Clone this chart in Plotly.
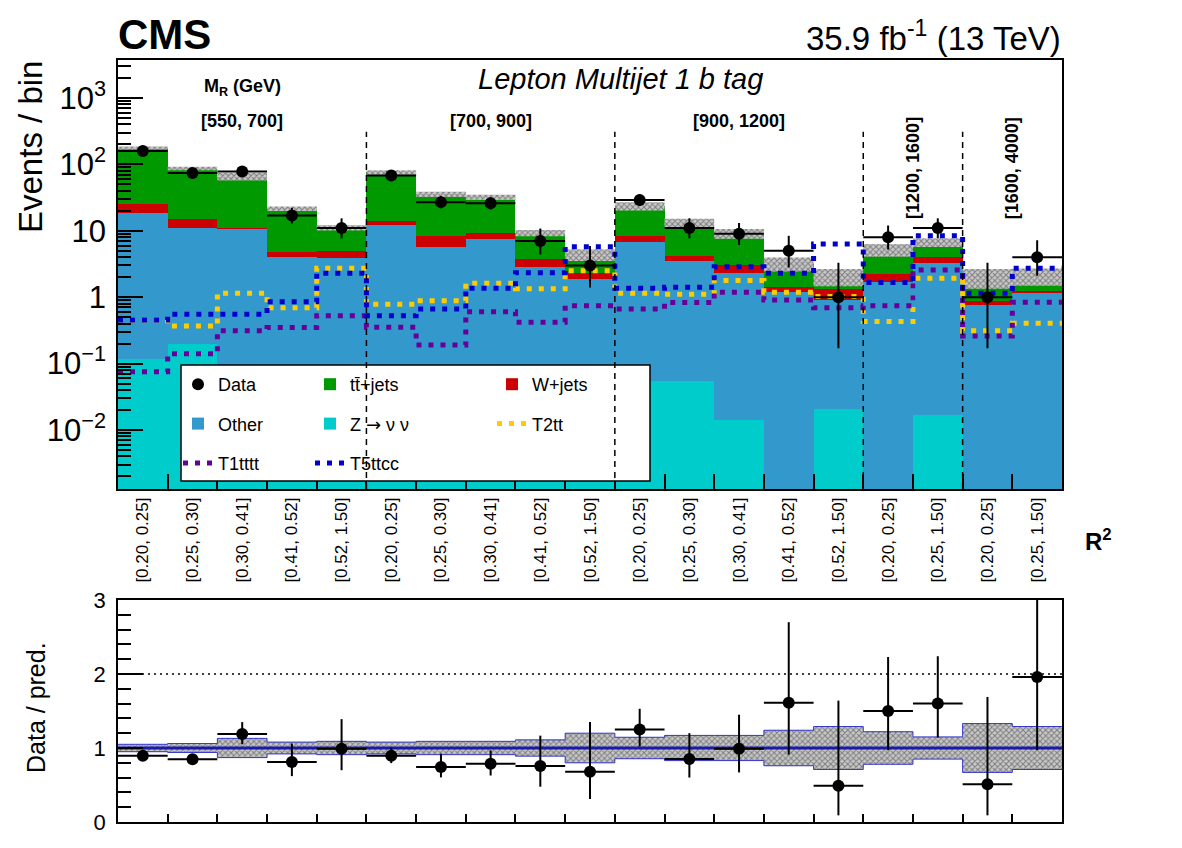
import numpy as np
import plotly.graph_objects as go

# ---------------- data ----------------
r2_labels = ["[0.20, 0.25]", "[0.25, 0.30]", "[0.30, 0.41]", "[0.41, 0.52]", "[0.52, 1.50]",
             "[0.20, 0.25]", "[0.25, 0.30]", "[0.30, 0.41]", "[0.41, 0.52]", "[0.52, 1.50]",
             "[0.20, 0.25]", "[0.25, 0.30]", "[0.30, 0.41]", "[0.41, 0.52]", "[0.52, 1.50]",
             "[0.20, 0.25]", "[0.25, 1.50]",
             "[0.20, 0.25]", "[0.25, 1.50]"]
mr_labels = ["[550, 700]", "[700, 900]", "[900, 1200]", "[1200, 1600]", "[1600, 4000]"]
mr_sizes = [5, 5, 5, 2, 2]

data_counts = [159, 74, 78, 17, 11, 68, 27, 26, 7, 3, 29, 11, 9, 5, 1, 8, 11, 1, 4]
data_err_lo = [12.1, 8.1, 8.3, 4.1, 3.3, 8.2, 5.2, 5.1, 2.6, 1.6, 5.4, 3.3, 2.9, 2.2, 0.83, 2.8, 3.3, 0.83, 1.9]
data_err_hi = [13.6, 9.6, 9.9, 5.2, 4.4, 9.3, 6.3, 6.2, 3.8, 2.9, 6.5, 4.4, 4.1, 3.4, 2.3, 4.0, 4.4, 2.3, 3.2]

tt_jets = [151.6, 72.1, 54.3, 16.7, 6.1, 61.3, 27.2, 22.6, 5.5, 2.06, 15.1, 8.8, 6.05, 1.79, 0.74, 2.97, 2.62, 1.12, 0.84]
w_jets = [7.0, 4.0, 0.3, 0.86, 1.12, 2.0, 2.58, 1.84, 0.94, 0.48, 1.59, 0.66, 0.71, 0.2, 0.4, 0.52, 0.85, 0.125, 0.11]
other = [18.3, 10.7, 10.8, 3.9, 3.8, 12.1, 5.7, 7.47, 2.77, 1.81, 6.8, 3.45, 2.33, 1.21, 0.89, 1.71, 3.21, 0.76, 1.15]
z_nunu = [0.117, 0.195, 0.09, 0.07, 0.05, 0.09, 0.07, 0.06, 0.05, 0.045, 0.054, 0.055, 0.014, 0.0, 0.021, 0.0, 0.017, 0.0, 0.0]

t2tt = [0.454, 0.368, 1.15, 0.695, 2.72, 0.782, 0.885, 1.62, 1.34, 2.51, 1.15, 1.11, 1.78, 1.19, 1.02, 0.43, 1.92, 0.313, 0.405]
t1tttt = [0.075, 0.14, 0.313, 0.348, 0.526, 0.352, 0.19, 0.605, 0.42, 0.745, 0.664, 0.83, 1.19, 0.91, 0.695, 0.745, 2.57, 0.26, 0.84]
t5ttcc = [0.454, 0.552, 0.552, 0.857, 2.29, 0.526, 0.664, 1.36, 2.34, 5.77, 1.36, 1.41, 2.88, 2.29, 6.3, 1.67, 8.4, 1.15, 2.72]

pred_rel_unc = [0.05, 0.06, 0.13, 0.08, 0.09, 0.08, 0.09, 0.09, 0.11, 0.2, 0.145, 0.17, 0.17, 0.24, 0.29, 0.22, 0.15, 0.33, 0.29]

ratio = [0.896, 0.847, 1.19, 0.81, 0.99, 0.896, 0.743, 0.788, 0.757, 0.68, 1.25, 0.851, 0.99, 1.61, 0.49, 1.5, 1.6, 0.51, 1.96]
ratio_err_hi = [0.05, 0.07, 0.16, 0.25, 0.40, 0.11, 0.18, 0.18, 0.41, 0.67, 0.28, 0.35, 0.46, 1.09, 1.15, 0.73, 0.64, 1.18, 3.5]
ratio_err_lo = [0.05, 0.07, 0.14, 0.19, 0.29, 0.10, 0.14, 0.16, 0.28, 0.37, 0.23, 0.25, 0.32, 0.70, 0.40, 0.53, 0.46, 0.42, 0.99]

# ---------------- helpers ----------------
n = len(data_counts)
centers = np.arange(n)
edges = np.arange(n + 1) - 0.5


def stepy(v):
    v = list(v)
    return v + [v[-1]]


total = np.array(tt_jets) + np.array(w_jets) + np.array(other) + np.array(z_nunu)
rel = np.array(pred_rel_unc)

FONT = "Liberation Sans, Arial, Helvetica, sans-serif"
C_OTHER = "#3399CC"
C_Z = "#00CCCC"
C_W = "#CC0000"
C_TT = "#009900"
C_T2 = "#FFCC00"
C_T1 = "#660099"
C_T5 = "#0000CC"
HATCH = dict(shape="x", fgcolor="#333333", bgcolor="#c8c8c8", size=4, solidity=0.45)

fig = go.Figure()

# stacked backgrounds
stack = [
    ("Z <span style=\"font-family:DejaVu Sans\">\u2192</span> \u03bd \u03bd", z_nunu, C_Z, "legend2", 2),
    ("Other", other, C_OTHER, "legend", 2),
    ("W+jets", w_jets, C_W, "legend3", 1),
    ("tt\u0304+jets", tt_jets, C_TT, "legend2", 1),
]
for name, vals, col, leg, rank in stack:
    fig.add_trace(go.Bar(x=centers, y=vals, width=1.0, name=name,
                         marker=dict(color=col, line=dict(width=0)),
                         xaxis="x", yaxis="y", legend=leg, legendgroup=name,
                         legendrank=rank))

# prediction uncertainty band (top)
fig.add_trace(go.Scatter(x=edges, y=stepy(total * (1 - rel)), mode="lines",
                         line=dict(width=0, shape="hv"), showlegend=False,
                         hoverinfo="skip", xaxis="x", yaxis="y"))
fig.add_trace(go.Scatter(x=edges, y=stepy(total * (1 + rel)), mode="lines",
                         line=dict(width=0, shape="hv"), fill="tonexty",
                         fillcolor="rgba(0,0,0,0)", fillpattern=HATCH,
                         showlegend=False, hoverinfo="skip", xaxis="x", yaxis="y"))

# signals
sigs = [
    ("T2tt", t2tt, C_T2, "legend3", 2),
    ("T1tttt", t1tttt, C_T1, "legend", 3),
    ("T5ttcc", t5ttcc, C_T5, "legend2", 3),
]
for name, vals, col, leg, rank in sigs:
    fig.add_trace(go.Scatter(x=edges, y=stepy(vals), mode="lines", name=name,
                             line=dict(color=col, width=5, dash="5px,7px", shape="hv"),
                             xaxis="x", yaxis="y", legend=leg, legendgroup=name,
                             legendrank=rank))

# data
fig.add_trace(go.Scatter(x=centers, y=data_counts, mode="markers", name="Data",
                         marker=dict(color="black", size=12),
                         error_y=dict(type="data", symmetric=False, array=data_err_hi,
                                      arrayminus=data_err_lo, color="black",
                                      thickness=2, width=0),
                         error_x=dict(type="constant", value=0.5, color="black",
                                      thickness=2, width=0),
                         xaxis="x", yaxis="y", legend="legend", legendgroup="Data",
                         legendrank=1))

# ---------------- ratio panel ----------------
fig.add_trace(go.Scatter(x=edges, y=stepy(1 - rel), mode="lines",
                         line=dict(width=1, color="#3333cc", shape="hv"),
                         showlegend=False, hoverinfo="skip", xaxis="x2", yaxis="y2"))
fig.add_trace(go.Scatter(x=edges, y=stepy(1 + rel), mode="lines",
                         line=dict(width=1, color="#3333cc", shape="hv"), fill="tonexty",
                         fillcolor="rgba(0,0,0,0)", fillpattern=HATCH,
                         showlegend=False, hoverinfo="skip", xaxis="x2", yaxis="y2"))
fig.add_trace(go.Scatter(x=edges, y=stepy(np.ones(n)), mode="lines",
                         line=dict(width=3, color="#1a1aaa", shape="hv"),
                         showlegend=False, hoverinfo="skip", xaxis="x2", yaxis="y2"))
fig.add_trace(go.Scatter(x=centers, y=ratio, mode="markers", showlegend=False,
                         marker=dict(color="black", size=12),
                         error_y=dict(type="data", symmetric=False, array=ratio_err_hi,
                                      arrayminus=ratio_err_lo, color="black",
                                      thickness=2, width=0),
                         error_x=dict(type="constant", value=0.5, color="black",
                                      thickness=2, width=0),
                         xaxis="x2", yaxis="y2"))

# ---------------- layout ----------------
W, H = 1182, 848
px = lambda p: p / W
py = lambda p: 1 - p / H

XDOM = [px(118), px(1062)]
xrange_ = [edges[0], edges[-1]]

major_y = [1e-2, 1e-1, 1, 10, 1e2, 1e3]
major_y_text = ["10<sup>\u22122</sup>", "10<sup>\u22121</sup>", "1", "10",
                "10<sup>2</sup>", "10<sup>3</sup>"]
minor_y = [m * 10.0 ** e for e in range(-3, 4) for m in range(2, 10)]

axis_common = dict(showline=True, linecolor="black", linewidth=1.5, mirror=True,
                   showgrid=False, zeroline=False, automargin=False)

fig.update_layout(
    width=W, height=H,
    margin=dict(l=0, r=0, t=0, b=0, autoexpand=False),
    paper_bgcolor="white", plot_bgcolor="white",
    font=dict(family=FONT, color="black"),
    barmode="stack", bargap=0,
    xaxis=dict(domain=XDOM, range=xrange_, anchor="y", tickmode="array",
               tickvals=list(centers), ticktext=r2_labels, tickangle=-90, ticks="",
               tickfont=dict(size=17),
               minor=dict(tickmode="array", tickvals=list(edges[1:-1]), ticks="inside",
                          ticklen=15, tickwidth=1.5, tickcolor="black"),
               **axis_common),
    yaxis=dict(domain=[py(489), py(60)], type="log", range=[-2.889, 3.572], anchor="x",
               tickmode="array", tickvals=major_y, ticktext=major_y_text,
               ticks="inside", ticklen=25, tickwidth=1.5, tickcolor="black",
               tickfont=dict(size=31), ticklabelstandoff=4,
               minor=dict(tickmode="array", tickvals=minor_y, ticks="inside",
                          ticklen=13, tickwidth=1.5, tickcolor="black"),
               **axis_common),
    xaxis2=dict(domain=XDOM, range=xrange_, anchor="y2", matches="x",
                tickmode="array", tickvals=list(edges[1:-1]), ticks="inside",
                ticklen=8, tickwidth=1.5, tickcolor="black", showticklabels=False,
                **axis_common),
    yaxis2=dict(domain=[py(822), py(600)], range=[0, 3], anchor="x2",
                tickmode="array", tickvals=[0, 1, 2, 3], ticks="inside", ticklen=25,
                tickwidth=1.5, tickcolor="black", tickfont=dict(size=22),
                ticklabelstandoff=6,
                minor=dict(dtick=0.2, ticks="inside", ticklen=13, tickwidth=1.5,
                           tickcolor="black"),
                **axis_common),
)

legend_common = dict(orientation="v", yanchor="top", xanchor="left",
                     bgcolor="rgba(0,0,0,0)", borderwidth=0, font=dict(size=18),
                     traceorder="grouped", tracegroupgap=13, itemclick=False)
fig.update_layout(
    legend=dict(x=px(178), y=py(366), **legend_common),
    legend2=dict(x=px(310), y=py(366), **legend_common),
    legend3=dict(x=px(492), y=py(366), **legend_common),
)

shapes = [
    dict(type="rect", xref="paper", yref="paper", x0=px(181), x1=px(650),
         y0=py(481), y1=py(365), fillcolor="white", line=dict(color="black", width=1.5),
         layer="above"),
    dict(type="line", xref="x2 domain", yref="y2", x0=0, x1=1, y0=2, y1=2,
         line=dict(color="black", width=1.5, dash="2px,4px")),
]
# dashed separators between M_R groups
bounds = np.cumsum(mr_sizes)[:-1]
for b in bounds:
    xe = edges[b]
    shapes.append(dict(type="line", xref="x", yref="y domain", x0=xe, x1=xe,
                       y0=0, y1=0.833, line=dict(color="black", width=1.5, dash="6px,5px"),
                       layer="above"))
fig.update_layout(shapes=shapes)

ann = [
    dict(text="<b>CMS</b>", x=px(116), y=py(35), xref="paper", yref="paper",
         xanchor="left", yanchor="middle", showarrow=False, font=dict(size=42)),
    dict(text="35.9 fb<sup>-1</sup> (13 TeV)", x=px(1063), y=py(36), xref="paper",
         yref="paper", xanchor="right", yanchor="middle", showarrow=False,
         font=dict(size=33)),
    dict(text="<i>Lepton Multijet 1 b tag</i>", x=px(620), y=py(79), xref="paper",
         yref="paper", xanchor="center", yanchor="middle", showarrow=False,
         font=dict(size=29)),
    dict(text="<b>M<sub>R</sub> (GeV)</b>", x=px(242), y=py(88), xref="paper",
         yref="paper", xanchor="center", yanchor="middle", showarrow=False,
         font=dict(size=18)),
    dict(text="Events / bin", x=px(30), y=py(147), xref="paper", yref="paper",
         textangle=-90, xanchor="center", yanchor="middle", showarrow=False,
         font=dict(size=33)),
    dict(text="Data / pred.", x=px(36), y=py(708), xref="paper", yref="paper",
         textangle=-90, xanchor="center", yanchor="middle", showarrow=False,
         font=dict(size=25)),
    dict(text="<b>R<sup>2</sup></b>", x=px(1098), y=py(540), xref="paper", yref="paper",
         xanchor="center", yanchor="middle", showarrow=False, font=dict(size=24)),
]
start = 0
for lab, sz in zip(mr_labels, mr_sizes):
    xc = start + (sz - 1) / 2.0
    if sz >= 3:
        ann.append(dict(text="<b>" + lab + "</b>", x=xc, y=py(121), xref="x",
                        yref="paper", xanchor="center", yanchor="middle",
                        showarrow=False, font=dict(size=18)))
    else:
        ann.append(dict(text="<b>" + lab + "</b>", x=xc, y=py(168), xref="x",
                        yref="paper", textangle=-90, xanchor="center",
                        yanchor="middle", showarrow=False, font=dict(size=18)))
    start += sz
fig.update_layout(annotations=ann)

fig.write_html("out.html")
